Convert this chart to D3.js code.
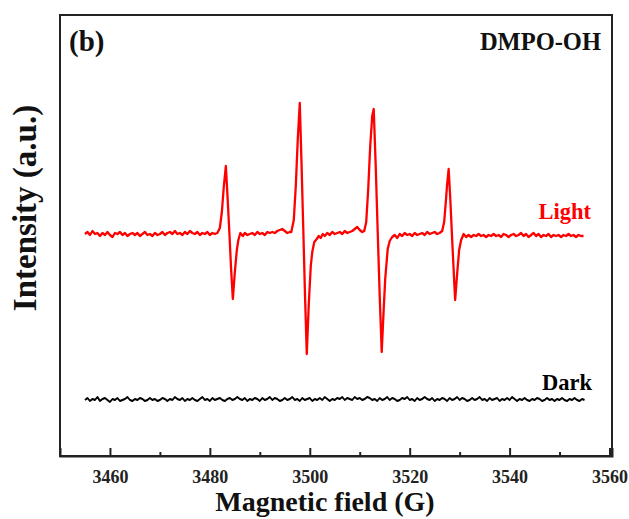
<!DOCTYPE html>
<html>
<head>
<meta charset="utf-8">
<script src="https://cdn.jsdelivr.net/npm/d3@7"></script>
<style>
  body { margin: 0; background: #fff; }
  text { font-family: "Liberation Serif", "Times New Roman", serif; font-weight: bold; }
</style>
</head>
<body>
<div class="epr_chart"></div>
<script>
// x axis ticks (G)
var majorTicks = [3460, 3480, 3500, 3520, 3540, 3560];
var minorTicks = [3470, 3490, 3510, 3530, 3550];

// light spectrum, [field (G), intensity (a.u.)]
var lightPoints = [
  [3455.0, 0], [3455.5, 2], [3456.0, -1], [3456.5, 3], [3457.0, 0], [3457.5, 1], [3458.0, -2], [3458.5, 1],
  [3459.0, -1], [3459.5, 2], [3460.0, -1], [3460.5, -3], [3461.0, 1], [3461.5, 0], [3462.0, 2], [3462.5, -1],
  [3463.0, 1], [3463.5, -2], [3464.0, 0], [3464.5, 1], [3465.0, -1], [3465.5, 1], [3466.0, -2], [3466.5, 0],
  [3467.0, 2], [3467.5, -1], [3468.0, 0], [3468.5, -2], [3469.0, 1], [3469.5, -1], [3470.0, 0], [3470.5, 2],
  [3471.0, -1], [3471.5, 1], [3472.0, 2], [3472.5, 0], [3473.0, 3], [3473.5, 0], [3474.0, 1], [3474.5, -1],
  [3475.0, 2], [3475.5, 0], [3476.0, 3], [3476.5, 1], [3477.0, 0], [3477.5, 2], [3478.0, -1], [3478.5, 1],
  [3479.0, 0], [3479.5, 2], [3480.0, -1], [3480.5, 1], [3481.0, 0], [3481.5, 1],
  // line 1
  [3482.0, 6], [3482.4, 22], [3482.8, 48], [3483.2, 68], [3483.55, 36], [3483.9, 2], [3484.25, -35],
  [3484.6, -65], [3485.0, -38], [3485.4, -16], [3485.7, -6], [3486.1, 1], [3486.6, -2],
  [3487.0, 1], [3487.5, -1], [3488.0, 0], [3488.5, 1], [3489.0, -1], [3489.5, 2], [3490.0, 0], [3490.5, 1],
  [3491.0, -1], [3491.5, 2], [3492.0, 1], [3492.5, 2], [3493.0, 1], [3493.5, 3], [3494.0, 4], [3494.5, 5],
  [3495.0, 3], [3495.5, 1], [3496.0, 2], [3496.3, 2],
  // line 2
  [3496.8, 14], [3497.2, 48], [3497.6, 95], [3498.0, 131], [3498.35, 70], [3498.7, 5], [3499.05, -62],
  [3499.4, -120], [3499.8, -70], [3500.2, -32], [3500.5, -18], [3500.9, -8], [3501.4, -5], [3501.8, -2],
  [3502.2, -4],
  [3502.6, 0], [3503.0, -2], [3503.5, 1], [3504.0, -1], [3504.5, 2], [3505.0, 0], [3505.5, 1], [3506.0, 2],
  [3506.5, 0], [3507.0, 3], [3507.5, 1], [3508.0, 2], [3508.5, 3], [3509.0, 5], [3509.5, 7], [3510.0, 4],
  [3510.5, 2], [3510.9, 3],
  // line 3
  [3511.3, 12], [3511.7, 45], [3512.1, 88], [3512.5, 118], [3512.8, 125], [3513.2, 68], [3513.6, 2],
  [3514.0, -62], [3514.4, -118], [3514.8, -75], [3515.1, -45], [3515.6, -15], [3516.0, -7], [3516.5, -3],
  [3517.0, -1], [3517.5, -4], [3518.0, 0], [3518.5, -2], [3519.0, 1], [3519.5, -1], [3520.0, 0], [3520.5, -2],
  [3521.0, 1], [3521.5, -1], [3522.0, 0], [3522.5, 1], [3523.0, -1], [3523.5, 2], [3524.0, 0], [3524.5, 1],
  [3525.0, 2], [3525.5, 0], [3526.0, 1],
  // line 4
  [3526.5, 3], [3526.9, 12], [3527.2, 30], [3527.5, 50], [3527.8, 65], [3528.15, 33], [3528.45, 0],
  [3528.8, -36], [3529.1, -66], [3529.5, -40], [3529.9, -16], [3530.3, -6], [3530.8, 0], [3531.3, -3],
  [3531.8, -1], [3532.3, -3], [3532.8, -1], [3533.3, -2], [3533.8, 0], [3534.3, -2], [3534.8, -1], [3535.3, -3],
  [3535.8, -1], [3536.3, -2], [3536.8, 0], [3537.3, -2], [3537.8, -1], [3538.3, -3], [3538.8, 0], [3539.3, -1],
  [3539.8, -3], [3540.3, -1], [3540.8, 0], [3541.3, -2], [3541.8, -1], [3542.3, 1], [3542.8, -2], [3543.3, 0],
  [3543.8, -3], [3544.3, -1], [3544.8, 1], [3545.3, -2], [3545.8, 0], [3546.3, -3], [3546.8, -1], [3547.3, -2],
  [3547.8, 0], [3548.3, -3], [3548.8, -1], [3549.3, -2], [3549.8, -1], [3550.3, -3], [3550.8, -1], [3551.3, -2],
  [3551.8, 0], [3552.3, -2], [3552.8, -1], [3553.3, -3], [3553.8, -1], [3554.3, -2], [3554.8, -2]
];

// dark spectrum, [field (G), intensity (a.u.)]
var darkPoints = [
  [3455.0, -166], [3455.5, -164], [3456.0, -167], [3456.5, -165], [3457.0, -166], [3457.5, -163], [3458.0, -167],
  [3458.5, -165], [3459.0, -164], [3459.5, -166], [3460.0, -168], [3460.5, -165], [3461.0, -166], [3461.5, -164],
  [3462.0, -167], [3462.5, -166], [3463.0, -165], [3463.5, -163], [3464.0, -166], [3464.5, -167], [3465.0, -165],
  [3465.5, -166], [3466.0, -164], [3466.5, -165], [3467.0, -167], [3467.5, -166], [3468.0, -164], [3468.5, -166],
  [3469.0, -165], [3469.5, -167], [3470.0, -166], [3470.5, -164], [3471.0, -165], [3471.5, -167], [3472.0, -165],
  [3472.5, -166], [3473.0, -163], [3473.5, -165], [3474.0, -166], [3474.5, -164], [3475.0, -167], [3475.5, -165],
  [3476.0, -166], [3476.5, -164], [3477.0, -166], [3477.5, -167], [3478.0, -165], [3478.5, -163], [3479.0, -166],
  [3479.5, -165], [3480.0, -167], [3480.5, -164], [3481.0, -166], [3481.5, -165], [3482.0, -164], [3482.5, -166],
  [3483.0, -167], [3483.5, -165], [3484.0, -164], [3484.5, -166], [3485.0, -165], [3485.5, -163], [3486.0, -165],
  [3486.5, -166], [3487.0, -164], [3487.5, -167], [3488.0, -165], [3488.5, -166], [3489.0, -164], [3489.5, -165],
  [3490.0, -167], [3490.5, -164], [3491.0, -166], [3491.5, -165], [3492.0, -163], [3492.5, -166], [3493.0, -164],
  [3493.5, -165], [3494.0, -167], [3494.5, -166], [3495.0, -164], [3495.5, -166], [3496.0, -165], [3496.5, -163],
  [3497.0, -166], [3497.5, -165], [3498.0, -167], [3498.5, -164], [3499.0, -166], [3499.5, -165], [3500.0, -164],
  [3500.5, -167], [3501.0, -165], [3501.5, -166], [3502.0, -164], [3502.5, -166], [3503.0, -163], [3503.5, -165],
  [3504.0, -167], [3504.5, -165], [3505.0, -166], [3505.5, -164], [3506.0, -165], [3506.5, -163], [3507.0, -166],
  [3507.5, -164], [3508.0, -165], [3508.5, -166], [3509.0, -163], [3509.5, -165], [3510.0, -164], [3510.5, -166],
  [3511.0, -165], [3511.5, -163], [3512.0, -164], [3512.5, -166], [3513.0, -165], [3513.5, -167], [3514.0, -164],
  [3514.5, -166], [3515.0, -165], [3515.5, -163], [3516.0, -166], [3516.5, -164], [3517.0, -165], [3517.5, -167],
  [3518.0, -166], [3518.5, -164], [3519.0, -165], [3519.5, -163], [3520.0, -166], [3520.5, -165], [3521.0, -167],
  [3521.5, -164], [3522.0, -166], [3522.5, -165], [3523.0, -163], [3523.5, -165], [3524.0, -166], [3524.5, -164],
  [3525.0, -167], [3525.5, -165], [3526.0, -166], [3526.5, -164], [3527.0, -165], [3527.5, -167], [3528.0, -164],
  [3528.5, -166], [3529.0, -165], [3529.5, -163], [3530.0, -166], [3530.5, -164], [3531.0, -165], [3531.5, -167],
  [3532.0, -166], [3532.5, -164], [3533.0, -166], [3533.5, -165], [3534.0, -163], [3534.5, -166], [3535.0, -165],
  [3535.5, -167], [3536.0, -164], [3536.5, -166], [3537.0, -165], [3537.5, -164], [3538.0, -167], [3538.5, -165],
  [3539.0, -166], [3539.5, -164], [3540.0, -166], [3540.5, -163], [3541.0, -165], [3541.5, -167], [3542.0, -165],
  [3542.5, -166], [3543.0, -164], [3543.5, -166], [3544.0, -167], [3544.5, -165], [3545.0, -166], [3545.5, -164],
  [3546.0, -165], [3546.5, -167], [3547.0, -166], [3547.5, -164], [3548.0, -166], [3548.5, -165], [3549.0, -167],
  [3549.5, -165], [3550.0, -166], [3550.5, -164], [3551.0, -166], [3551.5, -167], [3552.0, -165], [3552.5, -166],
  [3553.0, -164], [3553.5, -166], [3554.0, -167], [3554.5, -165], [3555.0, -166]
];

var seriesNames = ["Light", "Dark"];
var seriesColors = ["#ff0000", "#000000"];

var width = 629,
  height = 519;
var margin = { top: 15, right: 17, bottom: 63, left: 60 };

var svg = d3
  .select(".epr_chart")
  .append("svg")
  .attr("width", width)
  .attr("height", height);

var x = d3
  .scaleLinear()
  .domain([3450, 3560.5])
  .range([margin.left, width - margin.right]);

var y = d3
  .scaleLinear()
  .domain([-222, 219])
  .range([height - margin.bottom, margin.top]);

var line = d3
  .line()
  .x(function (d) {
    return x(d[0]);
  })
  .y(function (d) {
    return y(d[1]);
  });

// spectra
svg
  .append("path")
  .datum(darkPoints)
  .attr("d", line)
  .attr("fill", "none")
  .attr("stroke", seriesColors[1])
  .attr("stroke-width", 1.9)
  .attr("stroke-linejoin", "round");

svg
  .append("path")
  .datum(lightPoints)
  .attr("d", line)
  .attr("fill", "none")
  .attr("stroke", seriesColors[0])
  .attr("stroke-width", 2.3)
  .attr("stroke-linejoin", "round");

// frame
svg
  .append("rect")
  .attr("x", margin.left)
  .attr("y", margin.top)
  .attr("width", width - margin.left - margin.right)
  .attr("height", height - margin.top - margin.bottom)
  .attr("fill", "none")
  .attr("stroke", "#222")
  .attr("stroke-width", 2);

// x axis, ticks pointing inside
var xAxis = svg
  .append("g")
  .attr("transform", "translate(0," + (height - margin.bottom) + ")")
  .call(
    d3.axisBottom(x).tickValues(majorTicks).tickSize(-8).tickPadding(14).tickFormat(d3.format("d"))
  );
xAxis.select(".domain").attr("stroke", "#222").attr("stroke-width", 2);
xAxis.selectAll(".tick line").attr("stroke", "#222").attr("stroke-width", 2);
xAxis
  .selectAll(".tick text")
  .attr("fill", "#222")
  .style("font-size", "18px")
  .style("font-family", '"Liberation Serif", "Times New Roman", serif')
  .style("font-weight", "bold");

var xMinor = svg
  .append("g")
  .attr("transform", "translate(0," + (height - margin.bottom) + ")")
  .call(d3.axisBottom(x).tickValues(minorTicks).tickSize(-4).tickFormat(""));
xMinor.select(".domain").remove();
xMinor.selectAll(".tick line").attr("stroke", "#222").attr("stroke-width", 2);

// axis titles
svg
  .append("text")
  .attr("x", 325)
  .attr("y", 511)
  .attr("text-anchor", "middle")
  .style("font-size", "28px")
  .attr("fill", "#111")
  .text("Magnetic field (G)");

svg
  .append("text")
  .attr("transform", "translate(36,208) rotate(-90)")
  .attr("text-anchor", "middle")
  .style("font-size", "33px")
  .attr("fill", "#111")
  .text("Intensity (a.u.)");

// labels inside the plot
svg
  .append("text")
  .attr("x", 69)
  .attr("y", 51)
  .style("font-size", "29px")
  .attr("fill", "#111")
  .text("(b)");

svg
  .append("text")
  .attr("x", 601)
  .attr("y", 50)
  .attr("text-anchor", "end")
  .style("font-size", "24.5px")
  .attr("fill", "#111")
  .text("DMPO-OH");

svg
  .append("text")
  .attr("x", 591)
  .attr("y", 219)
  .attr("text-anchor", "end")
  .style("font-size", "22.5px")
  .attr("fill", seriesColors[0])
  .text(seriesNames[0]);

svg
  .append("text")
  .attr("x", 592)
  .attr("y", 390)
  .attr("text-anchor", "end")
  .style("font-size", "22.5px")
  .attr("fill", seriesColors[1])
  .text(seriesNames[1]);
</script>
</body>
</html>
